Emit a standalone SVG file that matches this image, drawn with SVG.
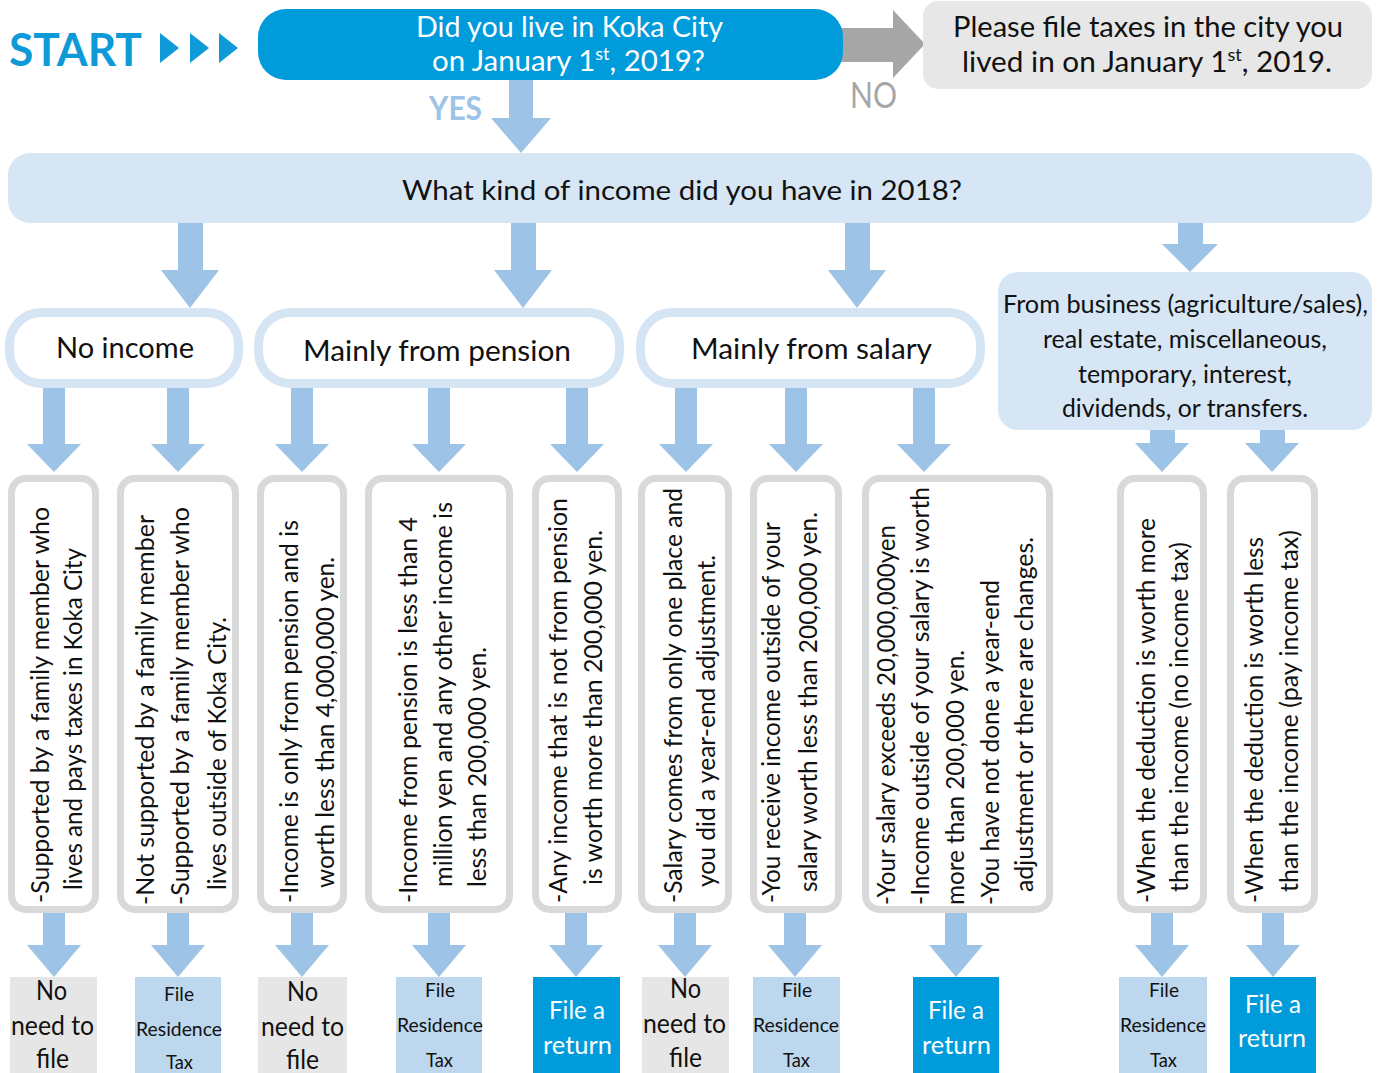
<svg xmlns="http://www.w3.org/2000/svg" width="1378" height="1073" viewBox="0 0 1378 1073">
<style>
text{font-family:Lato,"Open Sans","Liberation Sans",sans-serif;fill:#111}
.arr{fill:#9DC3E6}
.cat{fill:#fff;stroke:#D5E5F4;stroke-width:9}
.crit{fill:#fff;stroke:#D9D9D9;stroke-width:7}
.rg{fill:#E7E6E6}.rl{fill:#BDD7EE}.rb{fill:#009BDB}
.lb{fill:#D6E6F5}
.r{font-size:25px}
.w{fill:#fff}
.ct{font-size:29px}
.rt{font-size:27px}
.ft{font-size:19px}
.fa{font-size:25px}
</style>
<rect width="1378" height="1073" fill="#fff"/>
<g id="connectors">
<polygon id="no-arrow" fill="#A6A6A6" points="838,28 893,28 893,10 925,44 893,78 893,62 838,62"/>
<polygon class="arr" points="509,80 533,80 533,118 551,118 521,153 491,118 509,118"/>
<polygon class="arr" points="178,223 203,223 203,270 219,270 190,308 161,270 178,270"/>
<polygon class="arr" points="511,223 536,223 536,270 552,270 523,308 494,270 511,270"/>
<polygon class="arr" points="845,223 870,223 870,270 886,270 857,308 828,270 845,270"/>
<polygon class="arr" points="1178,223 1203,223 1203,244 1218,244 1190,272 1162,244 1178,244"/>
<g id="arrows-mid">
<polygon class="arr" points="43,388 65,388 65,444 81,444 54,472 27,444 43,444"/>
<polygon class="arr" points="167,388 189,388 189,444 205,444 178,472 151,444 167,444"/>
<polygon class="arr" points="291,388 313,388 313,444 329,444 302,472 275,444 291,444"/>
<polygon class="arr" points="428,388 450,388 450,444 466,444 439,472 412,444 428,444"/>
<polygon class="arr" points="566,388 588,388 588,444 604,444 577,472 550,444 566,444"/>
<polygon class="arr" points="675,388 697,388 697,444 713,444 686,472 659,444 675,444"/>
<polygon class="arr" points="785,388 807,388 807,444 823,444 796,472 769,444 785,444"/>
<polygon class="arr" points="913,388 935,388 935,444 951,444 924,472 897,444 913,444"/>
<polygon class="arr" points="1150,430 1175,430 1175,443 1189,443 1162,472 1135,443 1150,443"/>
<polygon class="arr" points="1260,430 1285,430 1285,443 1299,443 1272,472 1245,443 1260,443"/>
</g>
<g id="arrows-bottom">
<polygon class="arr" points="43,912 65,912 65,945 81,945 54,977 27,945 43,945"/>
<polygon class="arr" points="167,912 189,912 189,945 205,945 178,977 151,945 167,945"/>
<polygon class="arr" points="291,912 313,912 313,945 329,945 302,977 275,945 291,945"/>
<polygon class="arr" points="428,912 450,912 450,945 466,945 439,977 412,945 428,945"/>
<polygon class="arr" points="565,912 587,912 587,945 603,945 576,977 549,945 565,945"/>
<polygon class="arr" points="674,912 696,912 696,945 712,945 685,977 658,945 674,945"/>
<polygon class="arr" points="784,912 806,912 806,945 822,945 795,977 768,945 784,945"/>
<polygon class="arr" points="945,912 967,912 967,945 983,945 956,977 929,945 945,945"/>
<polygon class="arr" points="1151,912 1173,912 1173,945 1189,945 1162,977 1135,945 1151,945"/>
<polygon class="arr" points="1262,912 1284,912 1284,945 1300,945 1273,977 1246,945 1262,945"/>
</g>
<text x="429" y="120" font-size="32" font-weight="bold" style="fill:#9DC3E6" textLength="53" lengthAdjust="spacingAndGlyphs">YES</text>
<text x="850" y="108" font-size="36" style="fill:#A6A6A6" textLength="47" lengthAdjust="spacingAndGlyphs">NO</text>
</g>
<g id="start">
<text x="9" y="66" font-size="46" font-weight="bold" style="fill:#0E9AD8" textLength="133" lengthAdjust="spacingAndGlyphs">START</text>
<polygon fill="#0E9AD8" points="160,33 179,48 160,63"/>
<polygon fill="#0E9AD8" points="190,33 209,48 190,63"/>
<polygon fill="#0E9AD8" points="219,33 238,48 219,63"/>
</g>
<g id="q1">
<rect x="258" y="9" width="585" height="71" rx="28" fill="#009BDB"/>
<text class="w" x="416" y="37" font-size="28" textLength="307" lengthAdjust="spacingAndGlyphs">Did you live in Koka City</text>
<text class="w" x="432" y="71" font-size="28" textLength="273" lengthAdjust="spacingAndGlyphs">on January 1<tspan dy="-11" font-size="17">st</tspan><tspan dy="11">, 2019?</tspan></text>
</g>
<g id="other-city">
<rect x="923" y="1" width="449" height="88" rx="15" fill="#E7E7E7"/>
<text x="953" y="37" font-size="28" textLength="390" lengthAdjust="spacingAndGlyphs">Please file taxes in the city you</text>
<text x="962" y="72" font-size="28" textLength="370" lengthAdjust="spacingAndGlyphs">lived in on January 1<tspan dy="-11" font-size="17">st</tspan><tspan dy="11">, 2019.</tspan></text>
</g>
<g id="q2">
<rect class="lb" x="8" y="153" width="1364" height="70" rx="22"/>
<text x="402" y="200" font-size="27" textLength="560" lengthAdjust="spacingAndGlyphs">What kind of income did you have in 2018?</text>
</g>
<g id="cat-none">
<rect class="cat" x="9.5" y="312.5" width="229" height="71" rx="32"/>
<text class="ct" x="56" y="358" textLength="138" lengthAdjust="spacingAndGlyphs">No income</text>
</g>
<g id="cat-pension">
<rect class="cat" x="258.5" y="312.5" width="361" height="71" rx="32"/>
<text class="ct" x="303" y="361" textLength="268" lengthAdjust="spacingAndGlyphs">Mainly from pension</text>
</g>
<g id="cat-salary">
<rect class="cat" x="640.5" y="312.5" width="340" height="71" rx="32"/>
<text class="ct" x="691" y="359" textLength="241" lengthAdjust="spacingAndGlyphs">Mainly from salary</text>
</g>
<g id="cat-business">
<rect class="lb" x="998" y="272" width="374" height="158" rx="20"/>
<text x="1003" y="313" font-size="25" textLength="365" lengthAdjust="spacingAndGlyphs">From business (agriculture/sales),</text>
<text x="1043" y="348" font-size="25" textLength="284" lengthAdjust="spacingAndGlyphs">real estate, miscellaneous,</text>
<text x="1078" y="383" font-size="25" textLength="214" lengthAdjust="spacingAndGlyphs">temporary, interest,</text>
<text x="1062" y="417" font-size="25" textLength="246" lengthAdjust="spacingAndGlyphs">dividends, or transfers.</text>
</g>
<g id="c1">
<rect class="crit" x="11.5" y="478.5" width="84" height="431" rx="14"/>
<text class="r" transform="translate(49,903) rotate(-90)" textLength="396" lengthAdjust="spacingAndGlyphs">-Supported by a family member who</text>
<text class="r" transform="translate(82,890) rotate(-90)" textLength="342" lengthAdjust="spacingAndGlyphs">lives and pays taxes in Koka City</text>
</g>
<g id="c2">
<rect class="crit" x="120.5" y="478.5" width="115" height="431" rx="14"/>
<text class="r" transform="translate(154,905) rotate(-90)" textLength="390" lengthAdjust="spacingAndGlyphs">-Not supported by a family member</text>
<text class="r" transform="translate(189,905) rotate(-90)" textLength="398" lengthAdjust="spacingAndGlyphs">-Supported by a family member who</text>
<text class="r" transform="translate(226,890) rotate(-90)" textLength="273" lengthAdjust="spacingAndGlyphs">lives outside of Koka City.</text>
</g>
<g id="c3">
<rect class="crit" x="260.5" y="478.5" width="83" height="431" rx="14"/>
<text class="r" transform="translate(298,903) rotate(-90)" textLength="383" lengthAdjust="spacingAndGlyphs">-Income is only from pension and is</text>
<text class="r" transform="translate(334,888) rotate(-90)" textLength="331" lengthAdjust="spacingAndGlyphs">worth less than 4,000,000 yen.</text>
</g>
<g id="c4">
<rect class="crit" x="368.5" y="478.5" width="141" height="431" rx="14"/>
<text class="r" transform="translate(417,903) rotate(-90)" textLength="386" lengthAdjust="spacingAndGlyphs">-Income from pension is less than 4</text>
<text class="r" transform="translate(452,887) rotate(-90)" textLength="385" lengthAdjust="spacingAndGlyphs">million yen and any other income is</text>
<text class="r" transform="translate(486,887) rotate(-90)" textLength="240" lengthAdjust="spacingAndGlyphs">less than 200,000 yen.</text>
</g>
<g id="c5">
<rect class="crit" x="535.5" y="478.5" width="83" height="431" rx="14"/>
<text class="r" transform="translate(567,903) rotate(-90)" textLength="405" lengthAdjust="spacingAndGlyphs">-Any income that is not from pension</text>
<text class="r" transform="translate(602,885) rotate(-90)" textLength="355" lengthAdjust="spacingAndGlyphs">is worth more than 200,000 yen.</text>
</g>
<g id="c6">
<rect class="crit" x="641.5" y="478.5" width="87" height="431" rx="14"/>
<text class="r" transform="translate(682,903) rotate(-90)" textLength="415" lengthAdjust="spacingAndGlyphs">-Salary comes from only one place and</text>
<text class="r" transform="translate(715,887) rotate(-90)" textLength="332" lengthAdjust="spacingAndGlyphs">you did a year-end adjustment.</text>
</g>
<g id="c7">
<rect class="crit" x="753.5" y="478.5" width="85" height="431" rx="14"/>
<text class="r" transform="translate(780,903) rotate(-90)" textLength="381" lengthAdjust="spacingAndGlyphs">-You receive income outside of your</text>
<text class="r" transform="translate(817,892) rotate(-90)" textLength="380" lengthAdjust="spacingAndGlyphs">salary worth less than 200,000 yen.</text>
</g>
<g id="c8">
<rect class="crit" x="865.5" y="478.5" width="184" height="431" rx="14"/>
<text class="r" transform="translate(895,905) rotate(-90)" textLength="380" lengthAdjust="spacingAndGlyphs">-Your salary exceeds 20,000,000yen</text>
<text class="r" transform="translate(929,905) rotate(-90)" textLength="418" lengthAdjust="spacingAndGlyphs">-Income outside of your salary is worth</text>
<text class="r" transform="translate(964,905) rotate(-90)" textLength="255" lengthAdjust="spacingAndGlyphs">more than 200,000 yen.</text>
<text class="r" transform="translate(999,905) rotate(-90)" textLength="325" lengthAdjust="spacingAndGlyphs">-You have not done a year-end</text>
<text class="r" transform="translate(1033,892) rotate(-90)" textLength="355" lengthAdjust="spacingAndGlyphs">adjustment or there are changes.</text>
</g>
<g id="c9">
<rect class="crit" x="1120.5" y="478.5" width="83" height="431" rx="14"/>
<text class="r" transform="translate(1155,903) rotate(-90)" textLength="385" lengthAdjust="spacingAndGlyphs">-When the deduction is worth more</text>
<text class="r" transform="translate(1188,892) rotate(-90)" textLength="350" lengthAdjust="spacingAndGlyphs">than the income (no income tax)</text>
</g>
<g id="c10">
<rect class="crit" x="1230.5" y="478.5" width="84" height="431" rx="14"/>
<text class="r" transform="translate(1263,903) rotate(-90)" textLength="366" lengthAdjust="spacingAndGlyphs">-When the deduction is worth less</text>
<text class="r" transform="translate(1298,892) rotate(-90)" textLength="362" lengthAdjust="spacingAndGlyphs">than the income (pay income tax)</text>
</g>
<g id="r1">
<rect class="rg" x="10" y="977" width="87" height="96"/>
<text class="rt" x="36" y="1000" textLength="31" lengthAdjust="spacingAndGlyphs">No</text>
<text class="rt" x="11" y="1035" textLength="83" lengthAdjust="spacingAndGlyphs">need to</text>
<text class="rt" x="36" y="1068" textLength="33" lengthAdjust="spacingAndGlyphs">file</text>
</g>
<g id="r2">
<rect class="rl" x="135" y="977" width="86" height="96"/>
<text class="ft" x="164" y="1001" textLength="30" lengthAdjust="spacingAndGlyphs">File</text>
<text class="ft" x="136" y="1036" textLength="86" lengthAdjust="spacingAndGlyphs">Residence</text>
<text class="ft" x="166" y="1069" textLength="27" lengthAdjust="spacingAndGlyphs">Tax</text>
</g>
<g id="r3">
<rect class="rg" x="258" y="977" width="89" height="96"/>
<text class="rt" x="287" y="1001" textLength="31" lengthAdjust="spacingAndGlyphs">No</text>
<text class="rt" x="261" y="1036" textLength="83" lengthAdjust="spacingAndGlyphs">need to</text>
<text class="rt" x="286" y="1069" textLength="33" lengthAdjust="spacingAndGlyphs">file</text>
</g>
<g id="r4">
<rect class="rl" x="396" y="977" width="86" height="96"/>
<text class="ft" x="425" y="997" textLength="30" lengthAdjust="spacingAndGlyphs">File</text>
<text class="ft" x="397" y="1032" textLength="86" lengthAdjust="spacingAndGlyphs">Residence</text>
<text class="ft" x="426" y="1067" textLength="27" lengthAdjust="spacingAndGlyphs">Tax</text>
</g>
<g id="r5">
<rect class="rb" x="533" y="977" width="87" height="96"/>
<text class="fa w" x="549" y="1019" textLength="56" lengthAdjust="spacingAndGlyphs">File a</text>
<text class="fa w" x="543" y="1054" textLength="69" lengthAdjust="spacingAndGlyphs">return</text>
</g>
<g id="r6">
<rect class="rg" x="642" y="977" width="87" height="96"/>
<text class="rt" x="670" y="998" textLength="31" lengthAdjust="spacingAndGlyphs">No</text>
<text class="rt" x="643" y="1033" textLength="83" lengthAdjust="spacingAndGlyphs">need to</text>
<text class="rt" x="669" y="1067" textLength="33" lengthAdjust="spacingAndGlyphs">file</text>
</g>
<g id="r7">
<rect class="rl" x="753" y="977" width="87" height="96"/>
<text class="ft" x="782" y="997" textLength="30" lengthAdjust="spacingAndGlyphs">File</text>
<text class="ft" x="753" y="1032" textLength="86" lengthAdjust="spacingAndGlyphs">Residence</text>
<text class="ft" x="783" y="1067" textLength="27" lengthAdjust="spacingAndGlyphs">Tax</text>
</g>
<g id="r8">
<rect class="rb" x="913" y="977" width="86" height="96"/>
<text class="fa w" x="928" y="1019" textLength="56" lengthAdjust="spacingAndGlyphs">File a</text>
<text class="fa w" x="922" y="1054" textLength="69" lengthAdjust="spacingAndGlyphs">return</text>
</g>
<g id="r9">
<rect class="rl" x="1119" y="977" width="88" height="96"/>
<text class="ft" x="1149" y="997" textLength="30" lengthAdjust="spacingAndGlyphs">File</text>
<text class="ft" x="1120" y="1032" textLength="86" lengthAdjust="spacingAndGlyphs">Residence</text>
<text class="ft" x="1150" y="1067" textLength="27" lengthAdjust="spacingAndGlyphs">Tax</text>
</g>
<g id="r10">
<rect class="rb" x="1230" y="977" width="86" height="96"/>
<text class="fa w" x="1245" y="1013" textLength="56" lengthAdjust="spacingAndGlyphs">File a</text>
<text class="fa w" x="1238" y="1047" textLength="68" lengthAdjust="spacingAndGlyphs">return</text>
</g>
</svg>
